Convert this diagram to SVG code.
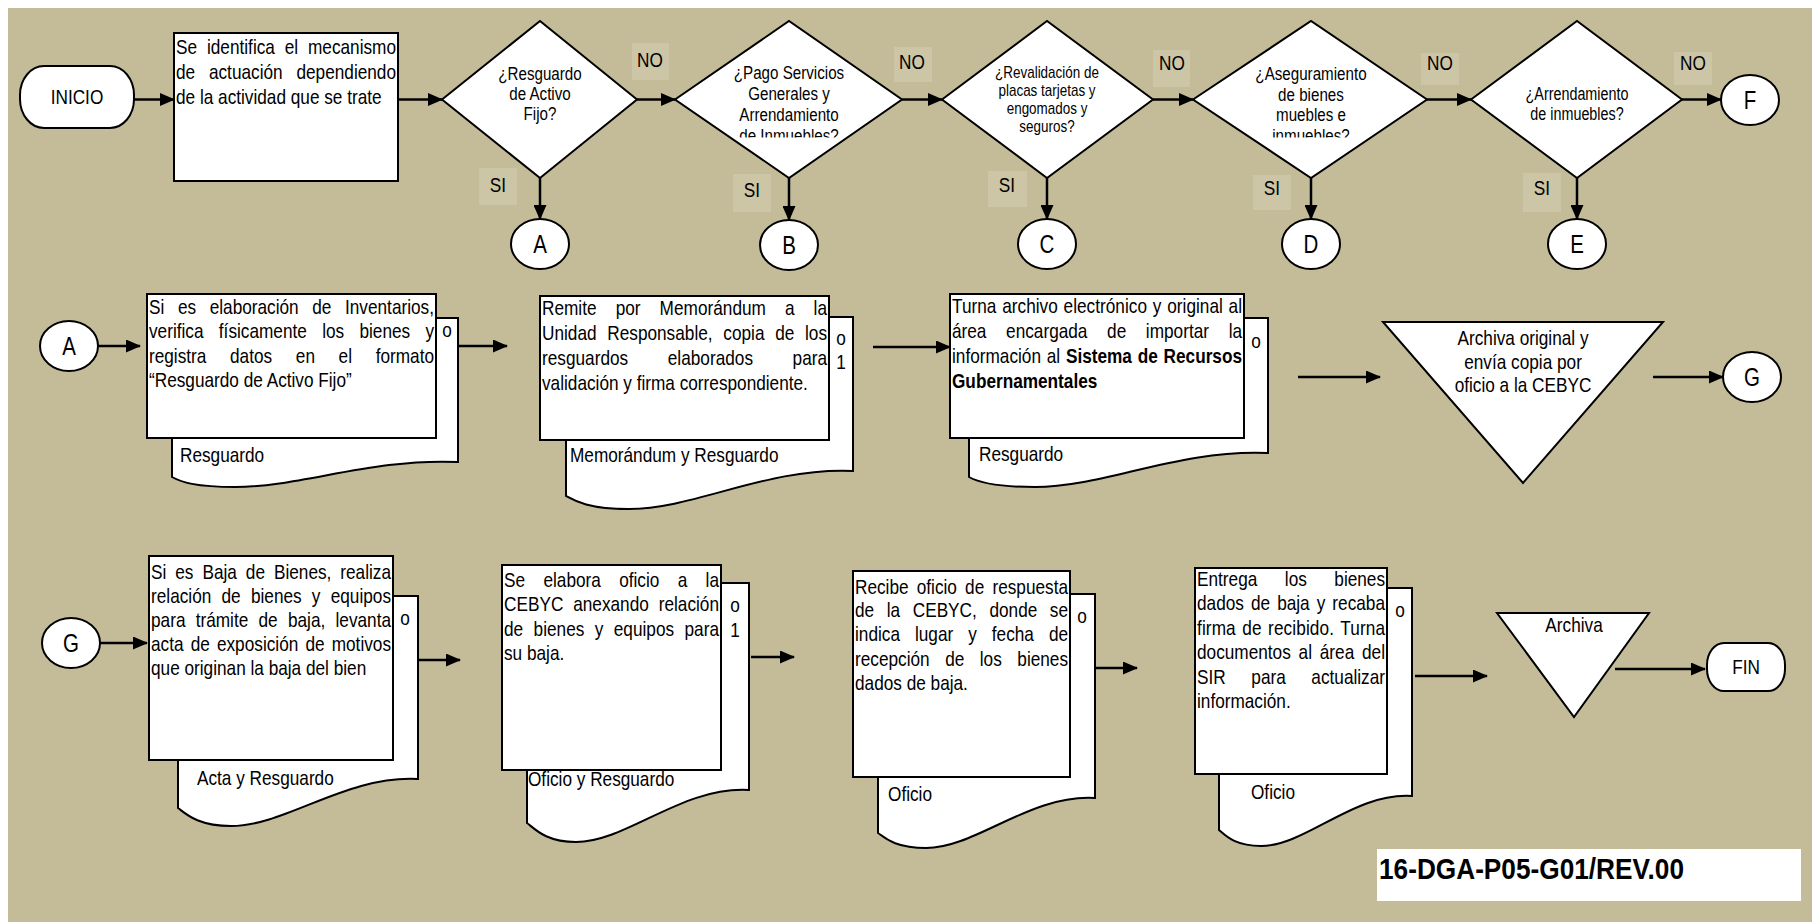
<svg xmlns="http://www.w3.org/2000/svg" width="1812" height="922" viewBox="0 0 1812 922">
<defs>
<style>
.t{font-family:"Liberation Sans",Arial,sans-serif;font-size:21px;fill:#000;transform:scaleX(.82);transform-box:fill-box;transform-origin:0 0}
.m{text-anchor:middle;transform-origin:50% 0}
.q{font-size:18.5px}
.q2{font-size:16.4px}
.q3{font-size:17.5px}
.big{font-size:25px}
.b{font-weight:bold}
.s{fill:#fff;stroke:#000;stroke-width:2}
.c{stroke:#000;stroke-width:2.5;fill:none;marker-end:url(#ah)}
.lb{fill:#ccc5a6}
</style>
<marker id="ah" markerUnits="userSpaceOnUse" markerWidth="15" markerHeight="13" refX="14" refY="6.5" orient="auto"><path d="M0,0 L15,6.5 L0,13 z" fill="#000"/></marker>
<clipPath id="clipD"><rect x="600" y="0" width="900" height="137.5"/></clipPath>
</defs>
<rect x="0" y="0" width="1812" height="922" fill="#fff"/>
<rect x="8" y="8" width="1804" height="914" fill="#c4bc98"/>

<g id="labels">
<rect class="lb" x="632" y="43" width="37" height="37"/><text class="t m" x="650" y="67">NO</text>
<rect class="lb" x="894" y="47" width="38" height="35"/><text class="t m" x="912" y="69">NO</text>
<rect class="lb" x="1153" y="50" width="37" height="37"/><text class="t m" x="1172" y="70">NO</text>
<rect class="lb" x="1421" y="53" width="38" height="32"/><text class="t m" x="1440" y="70">NO</text>
<rect class="lb" x="1674" y="52" width="38" height="33"/><text class="t m" x="1693" y="70">NO</text>
<rect class="lb" x="479" y="168" width="38" height="37"/><text class="t m" x="498" y="192">SI</text>
<rect class="lb" x="733" y="174" width="38" height="38"/><text class="t m" x="752" y="197">SI</text>
<rect class="lb" x="988" y="171" width="39" height="36"/><text class="t m" x="1007" y="192">SI</text>
<rect class="lb" x="1253" y="175" width="38" height="35"/><text class="t m" x="1272" y="195">SI</text>
<rect class="lb" x="1523" y="173" width="38" height="39"/><text class="t m" x="1542" y="195">SI</text>
</g>

<g id="connectors">
<line class="c" x1="134" y1="99.5" x2="174" y2="99.5"/>
<line class="c" x1="398" y1="99.5" x2="442" y2="99.5"/>
<line class="c" x1="637" y1="99.5" x2="675" y2="99.5"/>
<line class="c" x1="902" y1="99.5" x2="942" y2="99.5"/>
<line class="c" x1="1153" y1="99.5" x2="1193" y2="99.5"/>
<line class="c" x1="1427" y1="99.5" x2="1471" y2="99.5"/>
<line class="c" x1="1682" y1="99.5" x2="1721" y2="99.5"/>
<line class="c" x1="540" y1="178" x2="540" y2="219"/>
<line class="c" x1="789" y1="178" x2="789" y2="220"/>
<line class="c" x1="1047" y1="178" x2="1047" y2="219"/>
<line class="c" x1="1311" y1="178" x2="1311" y2="219"/>
<line class="c" x1="1577" y1="178" x2="1577" y2="219"/>
<line class="c" x1="98" y1="346" x2="140" y2="346"/>
<line class="c" x1="459" y1="346" x2="507" y2="346"/>
<line class="c" x1="873" y1="347" x2="950" y2="347"/>
<line class="c" x1="1298" y1="377" x2="1380" y2="377"/>
<line class="c" x1="1653" y1="377" x2="1723" y2="377"/>
<line class="c" x1="100" y1="643" x2="147" y2="643"/>
<line class="c" x1="418" y1="660" x2="460" y2="660"/>
<line class="c" x1="751" y1="657" x2="794" y2="657"/>
<line class="c" x1="1096" y1="668" x2="1137" y2="668"/>
<line class="c" x1="1415" y1="676" x2="1487" y2="676"/>
<line class="c" x1="1615" y1="669" x2="1705" y2="669"/>
</g>

<g id="inicio">
<rect class="s" x="20" y="66" width="114" height="62" rx="24" ry="29"/>
<text class="t m" x="77" y="104">INICIO</text>
</g>

<g id="box1">
<rect class="s" x="174" y="33" width="224" height="148"/>
<text class="t" x="176" y="54" textLength="268.3" lengthAdjust="spacing" word-spacing="6.2">Se identifica el mecanismo</text>
<text class="t" x="176" y="79" textLength="268.3" lengthAdjust="spacing" word-spacing="11">de actuación dependiendo</text>
<text class="t" x="176" y="104">de la actividad que se trate</text>
</g>

<g id="d1">
<polygon class="s" points="442,99.5 540,21 637,99.5 540,178"/>
<text class="t q m" x="540" y="80.5">¿Resguardo</text>
<text class="t q m" x="540" y="100.5">de Activo</text>
<text class="t q m" x="540" y="120.5">Fijo?</text>
</g>

<g id="d2">
<polygon class="s" points="675,99.5 789,21 902,99.5 789,178"/>
<g clip-path="url(#clipD)">
<text class="t q m" x="789" y="79.5">¿Pago Servicios</text>
<text class="t q m" x="789" y="100.5">Generales y</text>
<text class="t q m" x="789" y="121.5">Arrendamiento</text>
<text class="t q m" x="789" y="142">de Inmuebles?</text>
</g>
</g>

<g id="d3">
<polygon class="s" points="942,99.5 1047,21 1153,99.5 1047,178"/>
<text class="t q2 m" x="1047" y="78.5">¿Revalidación de</text>
<text class="t q2 m" x="1047" y="96">placas tarjetas y</text>
<text class="t q2 m" x="1047" y="114">engomados y</text>
<text class="t q2 m" x="1047" y="132.5">seguros?</text>
</g>

<g id="d4">
<polygon class="s" points="1193,99.5 1311,21 1427,99.5 1311,178"/>
<g clip-path="url(#clipD)">
<text class="t q m" x="1311" y="80.5">¿Aseguramiento</text>
<text class="t q m" x="1311" y="101">de bienes</text>
<text class="t q m" x="1311" y="121.5">muebles e</text>
<text class="t q m" x="1311" y="142">inmuebles?</text>
</g>
</g>

<g id="d5">
<polygon class="s" points="1471,99.5 1577,21 1682,99.5 1577,178"/>
<text class="t q3 m" x="1577" y="100">¿Arrendamiento</text>
<text class="t q3 m" x="1577" y="120">de inmuebles?</text>
</g>

<g id="cF"><ellipse class="s" cx="1750" cy="100" rx="29" ry="25"/><text class="t big m" x="1750" y="109">F</text></g>
<g id="cA1"><ellipse class="s" cx="540" cy="244" rx="29" ry="25"/><text class="t big m" x="540" y="253">A</text></g>
<g id="cB"><ellipse class="s" cx="789" cy="245" rx="29" ry="25"/><text class="t big m" x="789" y="254">B</text></g>
<g id="cC"><ellipse class="s" cx="1047" cy="244" rx="29" ry="25"/><text class="t big m" x="1047" y="253">C</text></g>
<g id="cD"><ellipse class="s" cx="1311" cy="244" rx="29" ry="25"/><text class="t big m" x="1311" y="253">D</text></g>
<g id="cE"><ellipse class="s" cx="1577" cy="244" rx="29" ry="25"/><text class="t big m" x="1577" y="253">E</text></g>

<g id="cA2"><ellipse class="s" cx="69" cy="346" rx="29" ry="25"/><text class="t big m" x="69" y="355">A</text></g>

<g id="doc1">
<path class="s" d="M172,318 H458 V462 C372,458 301,487 235,487 C195,487 181,482 172,477 Z"/>
<rect class="s" x="147" y="294" width="289" height="144"/>
<text class="t" x="149" y="314" textLength="347.6" lengthAdjust="spacing" word-spacing="10.7">Si es elaboración de Inventarios,</text>
<text class="t" x="149" y="338.5" textLength="347.6" lengthAdjust="spacing" word-spacing="12.8">verifica físicamente los bienes y</text>
<text class="t" x="149" y="363" textLength="347.6" lengthAdjust="spacing" word-spacing="23">registra datos en el formato</text>
<text class="t" x="149" y="387.5">“Resguardo de Activo Fijo”</text>
<text class="t m" x="447" y="337">o</text>
<text class="t" x="180" y="462">Resguardo</text>
</g>

<g id="doc2">
<path class="s" d="M566,317 H853 V471 C767,467 695,509 629,509 C589,509 575,501 566,496 Z"/>
<rect class="s" x="540" y="296" width="289" height="144"/>
<text class="t" x="542" y="315" textLength="347.6" lengthAdjust="spacing" word-spacing="17.4">Remite por Memorándum a la</text>
<text class="t" x="542" y="340" textLength="347.6" lengthAdjust="spacing" word-spacing="7.2">Unidad Responsable, copia de los</text>
<text class="t" x="542" y="365" textLength="347.6" lengthAdjust="spacing" word-spacing="42.4">resguardos elaborados para</text>
<text class="t" x="542" y="390">validación y firma correspondiente.</text>
<text class="t m" x="841" y="345">o</text>
<text class="t m" x="841" y="369">1</text>
<text class="t" x="570" y="462">Memorándum y Resguardo</text>
</g>

<g id="doc3">
<path class="s" d="M969,318 H1268 V453 C1178,449 1104,487 1035,487 C993,487 978,482 969,477 Z"/>
<rect class="s" x="950" y="294" width="294" height="144"/>
<text class="t" x="952" y="313" textLength="353.7" lengthAdjust="spacing" word-spacing="1.2">Turna archivo electrónico y original al</text>
<text class="t" x="952" y="338" textLength="353.7" lengthAdjust="spacing" word-spacing="18.1">área encargada de importar la</text>
<text class="t" x="952" y="363" textLength="353.7" lengthAdjust="spacing" word-spacing="1.2">información al <tspan class="b">Sistema de Recursos</tspan></text>
<text class="t b" x="952" y="388">Gubernamentales</text>
<text class="t m" x="1256" y="348">o</text>
<text class="t" x="979" y="461">Resguardo</text>
</g>

<g id="tri1">
<polygon class="s" points="1383,322 1663,322 1523,483"/>
<text class="t m" x="1523" y="345">Archiva original y</text>
<text class="t m" x="1523" y="369">envía copia por</text>
<text class="t m" x="1523" y="392">oficio a la CEBYC</text>
</g>

<g id="cG1"><ellipse class="s" cx="1752" cy="377" rx="29" ry="25"/><text class="t big m" x="1752" y="386">G</text></g>

<g id="cG2"><ellipse class="s" cx="71" cy="643" rx="29" ry="25"/><text class="t big m" x="71" y="652">G</text></g>

<g id="doc4">
<path class="s" d="M178,596 H418 V779 C346,775 286,826 231,826 C197,826 185,813 178,808 Z"/>
<rect class="s" x="149" y="556" width="244" height="204"/>
<text class="t" x="151" y="579" textLength="292.7" lengthAdjust="spacing" word-spacing="5.1">Si es Baja de Bienes, realiza</text>
<text class="t" x="151" y="603" textLength="292.7" lengthAdjust="spacing" word-spacing="6.6">relación de bienes y equipos</text>
<text class="t" x="151" y="627" textLength="292.7" lengthAdjust="spacing" word-spacing="6.6">para trámite de baja, levanta</text>
<text class="t" x="151" y="651" textLength="292.7" lengthAdjust="spacing" word-spacing="2.8">acta de exposición de motivos</text>
<text class="t" x="151" y="675">que originan la baja del bien</text>
<text class="t m" x="405" y="625">o</text>
<text class="t" x="197" y="785">Acta y Resguardo</text>
</g>

<g id="doc5">
<path class="s" d="M527,583 H749 V790 C682,786 627,842 576,842 C545,842 534,828 527,823 Z"/>
<rect class="s" x="502" y="565" width="219" height="205"/>
<text class="t" x="504" y="587" textLength="262.2" lengthAdjust="spacing" word-spacing="16.5">Se elabora oficio a la</text>
<text class="t" x="504" y="611" textLength="262.2" lengthAdjust="spacing" word-spacing="6.2">CEBYC anexando relación</text>
<text class="t" x="504" y="636" textLength="262.2" lengthAdjust="spacing" word-spacing="6.9">de bienes y equipos para</text>
<text class="t" x="504" y="660">su baja.</text>
<text class="t m" x="735" y="612">o</text>
<text class="t m" x="735" y="637">1</text>
<text class="t" x="528" y="786">Oficio y Resguardo</text>
</g>

<g id="doc6">
<path class="s" d="M878,594 H1095 V798 C1030,794 976,848 926,848 C895,848 885,838 878,833 Z"/>
<rect class="s" x="853" y="571" width="217" height="206"/>
<text class="t" x="855" y="594" textLength="259.8" lengthAdjust="spacing" word-spacing="4.1">Recibe oficio de respuesta</text>
<text class="t" x="855" y="617" textLength="259.8" lengthAdjust="spacing" word-spacing="9.5">de la CEBYC, donde se</text>
<text class="t" x="855" y="641" textLength="259.8" lengthAdjust="spacing" word-spacing="12.4">indica lugar y fecha de</text>
<text class="t" x="855" y="666" textLength="259.8" lengthAdjust="spacing" word-spacing="13.1">recepción de los bienes</text>
<text class="t" x="855" y="690">dados de baja.</text>
<text class="t m" x="1082" y="623">o</text>
<text class="t" x="888" y="801">Oficio</text>
</g>

<g id="doc7">
<path class="s" d="M1219,588 H1412 V796 C1354,792 1306,846 1261,846 C1234,846 1225,835 1219,830 Z"/>
<rect class="s" x="1195" y="568" width="192" height="206"/>
<text class="t" x="1197" y="586" textLength="229.3" lengthAdjust="spacing" word-spacing="27.7">Entrega los bienes</text>
<text class="t" x="1197" y="610.5" textLength="229.3" lengthAdjust="spacing" word-spacing="2.7">dados de baja y recaba</text>
<text class="t" x="1197" y="635" textLength="229.3" lengthAdjust="spacing" word-spacing="1.9">firma de recibido. Turna</text>
<text class="t" x="1197" y="659.5" textLength="229.3" lengthAdjust="spacing" word-spacing="3.7">documentos al área del</text>
<text class="t" x="1197" y="684" textLength="229.3" lengthAdjust="spacing" word-spacing="25.4">SIR para actualizar</text>
<text class="t" x="1197" y="708.5">información.</text>
<text class="t m" x="1400" y="617">o</text>
<text class="t" x="1251" y="799">Oficio</text>
</g>

<g id="tri2">
<polygon class="s" points="1497,613 1649,613 1574,717"/>
<text class="t m" x="1574" y="632">Archiva</text>
</g>

<g id="fin">
<rect class="s" x="1707" y="643" width="78" height="48" rx="17" ry="22"/>
<text class="t m" x="1746" y="674">FIN</text>
</g>

<g id="code">
<rect x="1377" y="849" width="424" height="52" fill="#fff"/>
<text class="t b" x="1379" y="879" style="font-size:30px" textLength="372" lengthAdjust="spacingAndGlyphs">16-DGA-P05-G01/REV.00</text>
</g>
</svg>
